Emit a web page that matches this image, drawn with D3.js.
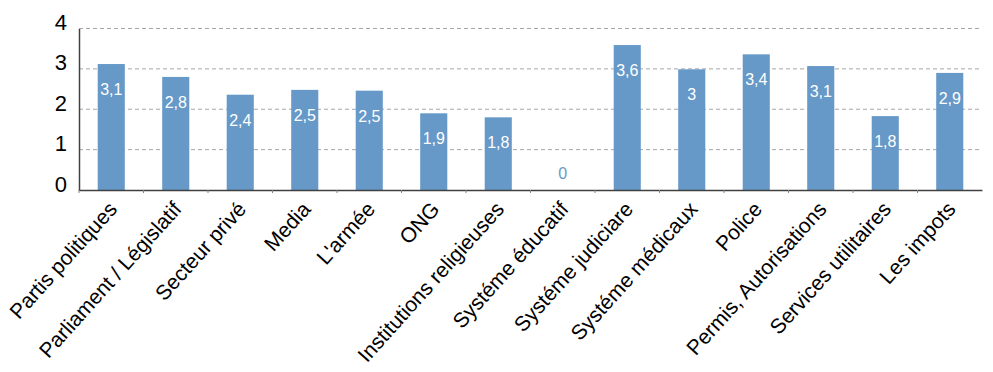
<!DOCTYPE html>
<html>
<head>
<meta charset="utf-8">
<script src="https://cdn.jsdelivr.net/npm/d3@7"></script>
<style>
  body { margin: 0; background: #fff; }
  svg { font-family: "Liberation Sans", Arial, sans-serif; }
</style>
</head>
<body>
<div id="chart"></div>
<script>
// data
var categories = [
    "Partis politiques", "Parliament / Législatif", "Secteur privé", "Media",
    "L'armée", "ONG", "Institutions religieuses", "Systéme éducatif",
    "Systéme judiciare", "Systéme médicaux", "Police", "Permis, Autorisations",
    "Services utilitaires", "Les impots"
];
var values = [3.12, 2.8, 2.36, 2.48, 2.46, 1.9, 1.8, 0, 3.59, 2.99, 3.36, 3.07, 1.83, 2.9];
var yTicks = [0, 1, 2, 3, 4];

var width = 993, height = 372;
var margin = { top: 28.5, right: 11, bottom: 182, left: 79 };

var svg = d3.select("#chart").append("svg")
    .attr("width", width)
    .attr("height", height);

var x = d3.scaleBand()
    .domain(categories)
    .range([margin.left, width - margin.right])
    .paddingInner(0.58)
    .paddingOuter(0.29);

var y = d3.scaleLinear()
    .domain([0, 4])
    .range([height - margin.bottom, margin.top]);

// dashed grid lines
svg.append("g")
    .selectAll("line")
    .data(yTicks.filter(function(d) { return d > 0; }))
    .join("line")
    .attr("x1", margin.left)
    .attr("x2", width - margin.right)
    .attr("y1", function(d) { return y(d); })
    .attr("y2", function(d) { return y(d); })
    .attr("stroke", "#a6a6a6")
    .attr("stroke-width", 1)
    .attr("stroke-dasharray", "4,3");

// bars
svg.append("g")
    .selectAll("rect")
    .data(values)
    .join("rect")
    .attr("x", function(d, i) { return x(categories[i]); })
    .attr("y", function(d) { return y(d); })
    .attr("width", x.bandwidth())
    .attr("height", function(d) { return y(0) - y(d); })
    .attr("fill", "#6699c8");

// value labels
var fmt = function(d) { return d3.format(".1~f")(d).replace(".", ","); };
svg.append("g")
    .selectAll("text")
    .data(values)
    .join("text")
    .attr("x", function(d, i) { return x(categories[i]) + x.bandwidth() / 2; })
    .attr("y", function(d) { return d > 0 ? y(d) + 31 : y(0) - 11; })
    .attr("text-anchor", "middle")
    .style("font-size", "16px")
    .attr("fill", function(d) { return d > 0 ? "#ffffff" : "#6699c8"; })
    .text(fmt);

// x axis
var xAxis = svg.append("g")
    .attr("transform", "translate(0," + y(0) + ")")
    .call(d3.axisBottom(x).tickSize(0).tickFormat(""));
xAxis.select(".domain").attr("stroke", "#404040").attr("stroke-width", 1.5);

// small separators between categories
xAxis.selectAll(".sep")
    .data(categories)
    .join("line")
    .attr("class", "sep")
    .attr("x1", function(d) { return x(d) - x.step() * x.paddingInner() / 2; })
    .attr("x2", function(d) { return x(d) - x.step() * x.paddingInner() / 2; })
    .attr("y1", 0)
    .attr("y2", 3)
    .attr("stroke", "#808080");

svg.append("g")
    .selectAll("text")
    .data(categories)
    .join("text")
    .attr("transform", function(d) {
        return "translate(" + (x(d) + x.bandwidth() / 2 + 7) + "," + (y(0) + 20) + ") rotate(-48)";
    })
    .attr("text-anchor", "end")
    .style("font-size", "21px")
    .attr("fill", "#000")
    .text(function(d) { return d; });

// y axis
var yAxis = svg.append("g")
    .attr("transform", "translate(" + margin.left + ",0)")
    .call(d3.axisLeft(y).tickValues(yTicks).tickFormat(d3.format("d")).tickSize(0).tickPadding(12));
yAxis.select(".domain").attr("stroke", "#404040").attr("stroke-width", 1.5);
yAxis.selectAll("text")
    .style("font-size", "22px")
    .style("font-family", "Liberation Sans, Arial, sans-serif")
    .attr("fill", "#000")
    .attr("dy", "0.05em");
</script>
</body>
</html>
